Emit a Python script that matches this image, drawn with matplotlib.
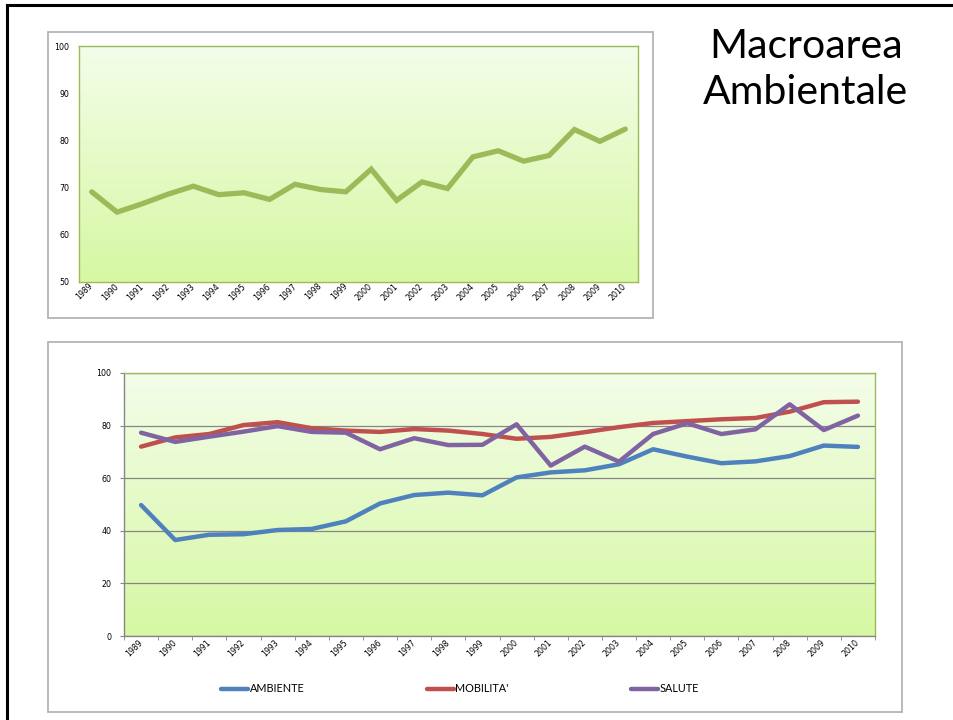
import numpy as np
import matplotlib
matplotlib.use('Agg')
import matplotlib.pyplot as plt
from matplotlib.patches import Rectangle
from matplotlib.lines import Line2D
from matplotlib.colors import LinearSegmentedColormap
import matplotlib.transforms as mtransforms

years = [str(y) for y in range(1989, 2011)]
macroarea = [69.1, 64.8, 66.6, 68.6, 70.3, 68.5, 68.9, 67.5, 70.7, 69.6, 69.1,
             73.9, 67.3, 71.2, 69.8, 76.5, 77.8, 75.6, 76.8, 82.3, 79.8, 82.4]
ambiente = [49.8, 36.5, 38.5, 38.7, 40.3, 40.7, 43.6, 50.4, 53.6, 54.5, 53.5,
            60.3, 62.2, 63.0, 65.3, 71.0, 68.2, 65.7, 66.4, 68.4, 72.4, 71.9]
mobilita = [72.0, 75.5, 76.8, 80.2, 81.3, 79.0, 78.1, 77.6, 78.7, 78.1, 76.8,
            75.0, 75.7, 77.5, 79.4, 81.0, 81.7, 82.4, 82.9, 85.3, 88.9, 89.1]
salute = [77.3, 73.8, 75.8, 77.7, 79.8, 77.6, 77.3, 71.0, 75.2, 72.6, 72.7,
          80.5, 64.8, 72.0, 66.3, 76.8, 80.9, 76.8, 78.6, 88.1, 78.3, 83.8]
series_names = ["AMBIENTE", "MOBILITA'", "SALUTE"]
title_text = "Macroarea\nAmbientale"

W, H = 954, 720
fig = plt.figure(figsize=(W / 100, H / 100), dpi=100)
fig.patch.set_facecolor('white')


def rect(x0, y0, x1, y1):
    return [x0 / W, 1 - y1 / H, (x1 - x0) / W, (y1 - y0) / H]


# slide border lines
fig.add_artist(Line2D([7 / W, 7 / W], [0, 1 - 5 / H], color='black', lw=2.2,
                      transform=fig.transFigure))
fig.add_artist(Line2D([7 / W, 1], [1 - 5 / H, 1 - 5 / H], color='black', lw=2.2,
                      transform=fig.transFigure))

# chart frames
for (x0, y0, x1, y1) in [(48, 32, 653, 318), (48, 342, 902, 712)]:
    fig.add_artist(Rectangle((x0 / W, 1 - y1 / H), (x1 - x0) / W, (y1 - y0) / H,
                             transform=fig.transFigure, fill=False,
                             ec='#b4b4b4', lw=1.3))

cmap = LinearSegmentedColormap.from_list('g', ['#D6F8A2', '#F4FDEA'])
grad = np.linspace(0, 1, 256).reshape(-1, 1)

GREEN = '#9BBB59'
GREY = '#868686'
TICKSIZE = 5.7


def setup(ax, ymin, ymax, ystep, dx):
    ax.imshow(grad, extent=[0, 1, 0, 1], transform=ax.transAxes, cmap=cmap,
              aspect='auto', origin='lower', zorder=0)
    n = len(years)
    ax.set_xlim(-0.5, n - 0.5)
    ax.set_ylim(ymin, ymax)
    ax.set_yticks(np.arange(ymin, ymax + 0.1, ystep))
    ax.set_xticks(np.arange(n))
    ax.set_xticklabels(years, rotation=45, ha='right', va='center',
                       rotation_mode='anchor', family='DejaVu Sans',
                       size=TICKSIZE)
    off = mtransforms.ScaledTranslation(dx / 100, -2 / 100, fig.dpi_scale_trans)
    for lab in ax.get_xticklabels():
        lab.set_transform(lab.get_transform() + off)
    for lab in ax.get_yticklabels():
        lab.set_fontfamily('DejaVu Sans')
        lab.set_fontsize(TICKSIZE)
    for s in ax.spines.values():
        s.set_color(GREEN)
        s.set_linewidth(1.0)


# top chart
ax1 = fig.add_axes(rect(79, 46, 638, 282))
setup(ax1, 50, 100, 10, 7)
ax1.plot(range(len(years)), macroarea, color=GREEN, lw=3.8,
         solid_capstyle='round', solid_joinstyle='miter', zorder=3)
ax1.tick_params(axis='both', length=0, pad=7)
ax1.tick_params(axis='x', pad=2)

# bottom chart
ax2 = fig.add_axes(rect(124, 373, 875, 636))
setup(ax2, 0, 100, 20, 5)
ax2.yaxis.grid(True, color=GREY, lw=0.9, zorder=1)
ax2.set_axisbelow(True)
ax2.spines['left'].set_color(GREY)
ax2.spines['bottom'].set_color(GREY)
ax2.tick_params(axis='y', length=3, color=GREY, pad=6)
ax2.tick_params(axis='x', which='major', length=0, pad=4)
ax2.set_xticks(np.arange(-0.5, len(years)), minor=True)
ax2.tick_params(axis='x', which='minor', length=3, color=GREY)
colors = ['#4F81BD', '#C0504D', '#8064A2']
for vals, name, c in zip([ambiente, mobilita, salute], series_names, colors):
    ax2.plot(range(len(years)), vals, color=c, lw=3.2, label=name,
             solid_capstyle='round', zorder=3)

leg = fig.legend(*ax2.get_legend_handles_labels(), loc='center',
                 bbox_to_anchor=(460 / W, 1 - 689 / H), ncol=3, frameon=False,
                 prop=dict(family='Lato', size=7.8), handlelength=2.5,
                 handletextpad=0.15, columnspacing=11.3)

fig.text(806 / W, 1 - 69 / H, title_text, ha='center', va='center',
         family='Lato', fontsize=29.5, linespacing=1.3)

fig.savefig('out.png', dpi=100)
